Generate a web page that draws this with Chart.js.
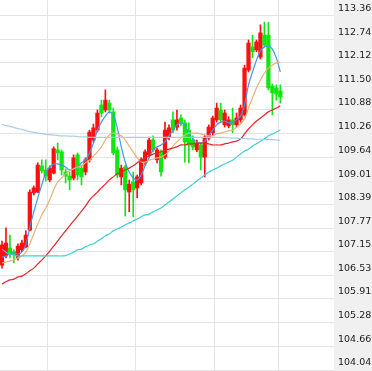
<!DOCTYPE html>
<html>
<head>
<meta charset="utf-8">
<script src="https://cdn.jsdelivr.net/npm/chart.js@4.4.1/dist/chart.umd.min.js"></script>
<style>
  html, body { margin: 0; padding: 0; background: #fff; }
  #wrap { width: 372px; height: 371px; }
</style>
</head>
<body>
<div id="wrap"><canvas id="chart" width="372" height="371"></canvas></div>
<script>
// 84 daily slots, the last ones still empty
const slots = Array.from({ length: 84 }, (_, i) => 'D' + (i + 1));
const monthStarts = [12, 34, 54, 70];

const open = [106.80, 107.04, 107.25, 107.15, 106.99, 107.20, 107.28, 107.72, 108.70, 108.72,
  109.41, 109.30, 109.04, 109.22, 109.83, 109.78, 109.25, 109.14, 109.09, 109.70,
  109.35, 109.25, 109.57, 110.09, 110.35, 111.01, 110.88, 111.06, 110.83, 109.83,
  109.12, 109.38, 108.72, 108.99, 108.83, 108.96, 109.49, 109.70, 110.09, 109.57,
  109.78, 109.64, 110.17, 110.62, 110.43, 110.67, 110.54, 110.35, 110.09, 109.83,
  109.96, 109.64, 110.14, 110.28, 110.62, 110.88, 110.49, 110.46, 110.62, 110.49,
  110.62, 110.75, 111.93, 112.54, 112.46, 112.27, 112.85, 112.85, 111.51, 111.46, 111.38];
const high = [107.43, 107.78, 107.59, 107.20, 107.36, 107.46, 107.70, 108.78, 108.88, 109.49,
  109.57, 109.57, 109.41, 109.91, 110.01, 109.83, 109.33, 109.25, 109.70, 109.75,
  109.43, 109.62, 110.35, 110.51, 110.88, 111.14, 111.41, 111.14, 110.93, 109.91,
  109.43, 109.43, 109.04, 109.25, 109.17, 109.62, 109.83, 110.17, 110.20, 109.88,
  109.83, 110.56, 110.49, 110.83, 110.88, 110.75, 110.62, 110.54, 110.20, 110.09,
  110.01, 110.22, 110.49, 110.72, 111.06, 111.06, 110.88, 110.70, 110.93, 110.80,
  111.01, 112.06, 112.72, 112.85, 112.72, 113.12, 113.19, 113.19, 111.56, 111.54, 111.54];
const low = [106.72, 106.99, 106.99, 106.86, 106.93, 107.15, 107.25, 107.70, 108.64, 108.70,
  109.22, 109.01, 108.99, 109.20, 109.57, 109.17, 108.96, 108.78, 109.04, 109.04,
  108.91, 109.17, 109.51, 110.04, 110.30, 110.70, 110.83, 110.80, 109.70, 109.09,
  108.91, 108.09, 108.20, 108.07, 108.57, 108.91, 109.43, 109.64, 109.78, 109.49,
  109.14, 109.59, 110.09, 110.28, 110.35, 110.46, 109.51, 109.49, 109.83, 109.78,
  109.30, 109.12, 110.09, 110.22, 110.56, 110.54, 110.43, 110.41, 110.28, 110.43,
  110.56, 110.72, 111.88, 112.25, 112.41, 112.22, 112.54, 111.41, 110.75, 111.14, 111.06];
const close = [107.33, 107.38, 107.12, 107.07, 107.30, 107.38, 107.59, 108.72, 108.83, 109.43,
  109.28, 109.14, 109.35, 109.86, 109.75, 109.30, 109.14, 109.04, 109.62, 109.17,
  109.12, 109.57, 110.30, 110.41, 110.80, 110.80, 111.14, 110.88, 109.75, 109.17,
  109.35, 108.78, 108.93, 108.78, 109.12, 109.57, 109.78, 110.09, 109.83, 109.83,
  109.25, 110.35, 110.41, 110.35, 110.62, 110.54, 110.04, 109.96, 109.91, 110.01,
  109.64, 110.17, 110.43, 110.67, 110.93, 110.62, 110.80, 110.62, 110.49, 110.67,
  110.93, 111.98, 112.64, 112.41, 112.67, 112.91, 112.59, 111.46, 111.33, 111.30, 111.22];

const ma5 = [107.01, 107.04, 107.09, 107.12, 107.09, 107.14, 107.33, 107.80, 108.20, 108.57,
  108.91, 109.22, 109.38, 109.46, 109.46, 109.43, 109.38, 109.30, 109.33, 109.38,
  109.49, 109.56, 109.75, 110.01, 110.35, 110.56, 110.72, 110.83, 110.75, 110.41,
  109.91, 109.51, 109.25, 109.09, 109.04, 109.17, 109.41, 109.62, 109.83, 109.91,
  109.96, 110.04, 110.20, 110.35, 110.49, 110.54, 110.49, 110.27, 110.12, 110.04,
  110.01, 110.06, 110.20, 110.35, 110.49, 110.56, 110.59, 110.54, 110.56, 110.62,
  110.72, 111.01, 111.54, 111.88, 112.19, 112.43, 112.54, 112.56, 112.48, 112.25, 111.88];
const ma10 = [106.86, 106.88, 106.91, 106.93, 106.99, 107.04, 107.14, 107.36, 107.62, 107.88,
  108.12, 108.30, 108.51, 108.78, 108.99, 109.09, 109.20, 109.28, 109.33, 109.38,
  109.41, 109.49, 109.56, 109.67, 109.78, 109.91, 110.09, 110.22, 110.27, 110.25,
  110.20, 110.09, 109.93, 109.78, 109.62, 109.51, 109.51, 109.56, 109.59, 109.62,
  109.64, 109.70, 109.80, 109.93, 110.04, 110.14, 110.22, 110.27, 110.27, 110.27,
  110.25, 110.22, 110.20, 110.20, 110.25, 110.27, 110.30, 110.33, 110.35, 110.43,
  110.51, 110.64, 110.93, 111.20, 111.46, 111.67, 111.85, 111.98, 112.06, 112.12, 112.14];
const ma30 = [106.30, 106.36, 106.41, 106.43, 106.49, 106.51, 106.57, 106.65, 106.72, 106.83,
  106.93, 107.04, 107.17, 107.30, 107.43, 107.57, 107.70, 107.83, 107.96, 108.09,
  108.22, 108.35, 108.51, 108.62, 108.72, 108.83, 108.93, 109.04, 109.12, 109.20,
  109.25, 109.30, 109.35, 109.41, 109.49, 109.56, 109.62, 109.67, 109.72, 109.75,
  109.78, 109.83, 109.85, 109.88, 109.91, 109.96, 109.96, 109.99, 109.99, 110.01,
  110.01, 110.01, 109.99, 109.96, 109.96, 109.96, 109.99, 110.01, 110.04, 110.06,
  110.12, 110.25, 110.38, 110.49, 110.59, 110.67, 110.75, 110.83, 110.88, 110.93, 110.99];
const ma60 = [107.22, 107.14, 107.09, 107.07, 107.04, 107.04, 107.04, 107.04, 107.04, 107.04,
  107.04, 107.04, 107.04, 107.04, 107.04, 107.04, 107.05, 107.09, 107.14, 107.20,
  107.22, 107.28, 107.33, 107.36, 107.43, 107.49, 107.57, 107.62, 107.70, 107.75,
  107.80, 107.86, 107.91, 107.96, 108.01, 108.07, 108.12, 108.14, 108.20, 108.25,
  108.30, 108.38, 108.46, 108.54, 108.62, 108.70, 108.78, 108.85, 108.93, 109.01,
  109.09, 109.17, 109.25, 109.30, 109.35, 109.41, 109.46, 109.51, 109.56, 109.64,
  109.72, 109.80, 109.85, 109.93, 109.99, 110.06, 110.12, 110.20, 110.25, 110.30, 110.35];
const ma120 = [110.50, 110.47, 110.45, 110.42, 110.39, 110.37, 110.34, 110.31, 110.29, 110.27,
  110.26, 110.24, 110.23, 110.22, 110.21, 110.20, 110.20, 110.19, 110.19, 110.18,
  110.17, 110.17, 110.16, 110.16, 110.16, 110.16, 110.16, 110.16, 110.16, 110.16,
  110.16, 110.16, 110.16, 110.16, 110.16, 110.16, 110.16, 110.16, 110.16, 110.16,
  110.16, 110.16, 110.16, 110.16, 110.16, 110.16, 110.16, 110.16, 110.16, 110.16,
  110.16, 110.16, 110.16, 110.16, 110.16, 110.16, 110.15, 110.15, 110.14, 110.14,
  110.13, 110.13, 110.12, 110.12, 110.11, 110.11, 110.10, 110.10, 110.10, 110.09, 110.09];

const yTicks = [104.04, 104.66, 105.28, 105.91, 106.53, 107.15, 107.77, 108.39,
  109.01, 109.64, 110.26, 110.88, 111.50, 112.12, 112.74, 113.36];

const UP = '#ff0f0f';
const DOWN = '#12e612';
const candleColors = open.map((o, i) => close[i] >= o ? UP : DOWN);

const panel = {
  id: 'panel',
  beforeDraw(chart) {
    const { ctx, chartArea, width, height } = chart;
    ctx.save();
    ctx.fillStyle = '#ffffff';
    ctx.fillRect(0, 0, width, height);
    ctx.fillStyle = '#f0f0f0';
    ctx.fillRect(chartArea.right, 0, width - chartArea.right, height);
    ctx.restore();
  }
};

const line = (data, color) => ({
  type: 'line',
  data,
  borderColor: color,
  borderWidth: 1.2,
  pointRadius: 0,
  tension: 0.3,
  order: 0
});

new Chart(document.getElementById('chart'), {
  type: 'bar',
  data: {
    labels: slots,
    datasets: [
      line(ma120, '#a9cde8'),
      line(ma60, '#3ccfd8'),
      line(ma30, '#e4252a'),
      line(ma10, '#ebb07c'),
      line(ma5, '#3d98ec'),
      {
        data: low.map((l, i) => [l, high[i]]),
        backgroundColor: candleColors,
        barThickness: 1,
        grouped: false,
        order: 2
      },
      {
        data: open.map((o, i) => [o, close[i]]),
        backgroundColor: candleColors,
        barThickness: 3.6,
        minBarLength: 1,
        grouped: false,
        order: 1
      }
    ]
  },
  options: {
    responsive: false,
    animation: false,
    layout: { padding: 0 },
    plugins: { legend: { display: false }, tooltip: { enabled: false } },
    scales: {
      x: {
        ticks: { display: false },
        border: { display: false },
        grid: {
          offset: true,
          drawTicks: false,
          color: c => monthStarts.includes(c.index) ? '#e4e4e4' : 'rgba(0,0,0,0)'
        },
        afterFit(s) { s.height = 0; s.paddingLeft = 0; s.paddingRight = 0; }
      },
      y: {
        position: 'right',
        min: 104.014,
        max: 113.773,
        border: { display: false },
        grid: { color: '#e4e4e4', drawTicks: false },
        ticks: {
          padding: 4,
          labelOffset: -7,
          color: '#1a1a1a',
          font: { family: 'DejaVu Sans', size: 9.5 },
          callback: v => v.toFixed(2)
        },
        afterBuildTicks(s) { s.ticks = yTicks.map(v => ({ value: v })); },
        afterFit(s) { s.width = 38; s.paddingTop = 0; s.paddingBottom = 0; }
      }
    }
  },
  plugins: [panel]
});
</script>
</body>
</html>
